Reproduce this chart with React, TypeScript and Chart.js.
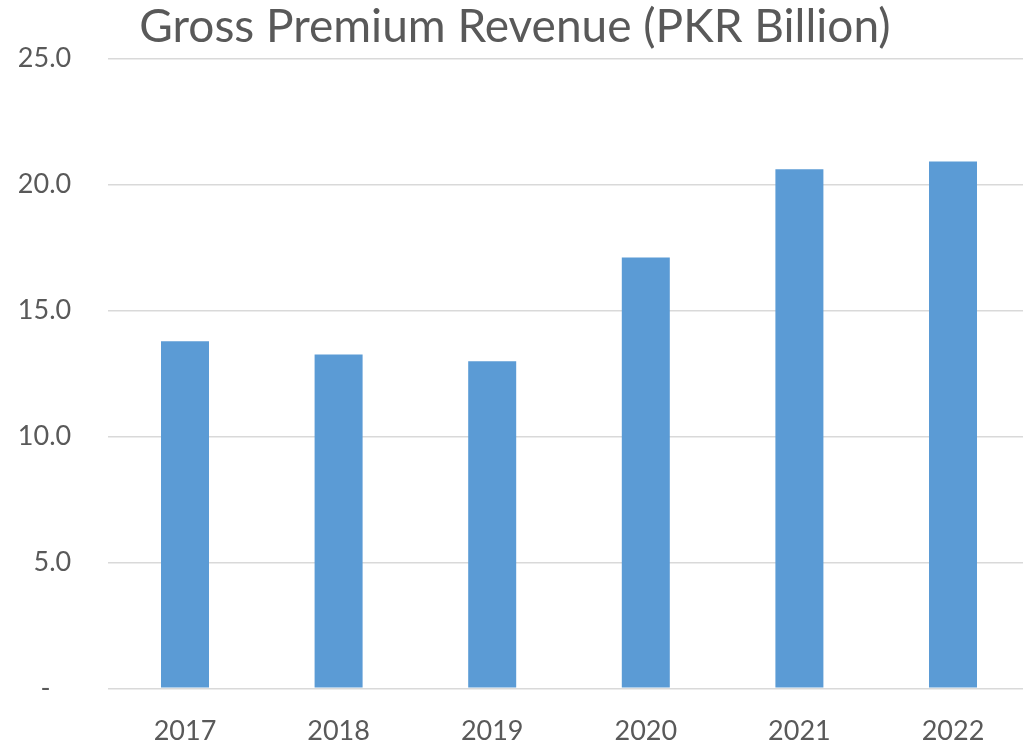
import React, { useEffect, useRef } from "react";
import { Chart, registerables } from "chart.js";
Chart.register(...registerables);

const categories = ["2017", "2018", "2019", "2020", "2021", "2022"];
const premiumValues = [13.77, 13.25, 12.98, 17.1, 20.6, 20.9];
const yTickValues = [0, 5, 10, 15, 20, 25];
const titleText = "Gross Premium Revenue (PKR Billion)";

const TEXT = "#595959";
const FONT = "Lato";

export default function App() {
  const ref = useRef<HTMLCanvasElement>(null);
  useEffect(() => {
    const chart = new Chart(ref.current!, {
      type: "bar",
      data: {
        labels: categories,
        datasets: [
          {
            data: premiumValues,
            backgroundColor: "#5B9BD5",
            barPercentage: 0.3125,
            categoryPercentage: 1,
          },
        ],
      },
      options: {
        responsive: false,
        animation: false,
        layout: { padding: { left: 0, right: 10.2, top: 0, bottom: 0 } },
        plugins: {
          legend: { display: false },
          tooltip: { enabled: false },
          title: {
            display: true,
            text: titleText,
            color: TEXT,
            font: { family: FONT, size: 46, weight: "normal", lineHeight: 1.2 },
            padding: { top: 0, bottom: 3.1 },
          },
        },
        scales: {
          x: {
            grid: { display: false },
            border: { display: false },
            ticks: { color: TEXT, font: { family: FONT, size: 27 }, padding: 19 },
            afterFit: (s: any) => {
              s.height = 56.7;
            },
          },
          y: {
            min: 0,
            max: 25,
            grid: { color: "#d9d9d9", lineWidth: 1.5, drawTicks: false },
            border: { display: false },
            afterBuildTicks: (s: any) => {
              s.ticks = yTickValues.map((v) => ({ value: v }));
            },
            ticks: {
              color: TEXT,
              font: { family: FONT, size: 27 },
              padding: 37,
              callback: (v: any) => (Number(v) === 0 ? "-   " : Number(v).toFixed(1)),
            },
            afterFit: (s: any) => {
              s.width = 108.2;
            },
          },
        },
      },
    });
    return () => chart.destroy();
  }, []);
  return (
    <div
      style={{
        position: "absolute",
        left: 0,
        top: 0,
        width: 1023,
        height: 745,
        overflow: "hidden",
        background: "#fff",
      }}
    >
      <canvas ref={ref} width={1040} height={745} style={{ display: "block" }} />
    </div>
  );
}
